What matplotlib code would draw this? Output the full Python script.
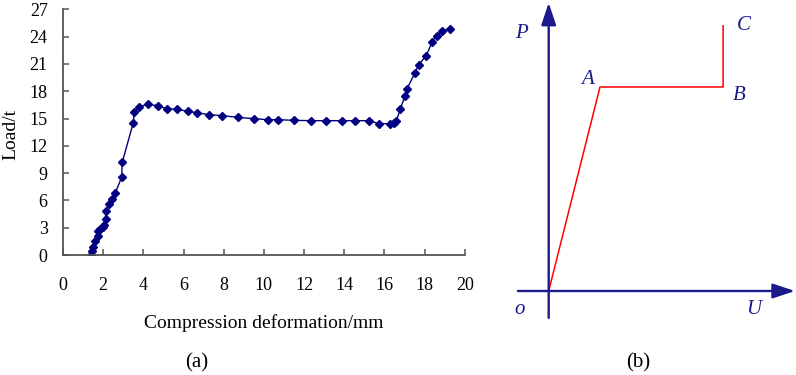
import numpy as np
import matplotlib
matplotlib.use("Agg")
import matplotlib.pyplot as plt

plt.rcParams['font.family'] = ['Liberation Serif', 'DejaVu Serif']

# ---- (a) measured load-deformation curve ----
deform = [1.41, 1.46, 1.49, 1.59, 1.72, 1.72, 1.84, 1.97, 2.04, 2.12, 2.12,
          2.30, 2.44, 2.60, 2.92, 2.95, 3.50, 3.55, 3.78, 4.21, 4.71, 5.16,
          5.66, 6.24, 6.65, 7.28, 7.93, 8.69, 9.50, 10.21, 10.71, 11.48,
          12.37, 13.08, 13.91, 14.56, 15.26, 15.72, 16.28, 16.50, 16.60,
          16.80, 17.03, 17.13, 17.51, 17.71, 18.09, 18.37, 18.61, 18.89, 19.29]
load = [0.0, 0.47, 0.91, 1.57, 2.12, 2.64, 2.82, 3.11, 3.30, 3.96, 4.87,
        5.60, 6.12, 6.81, 8.54, 10.19, 14.54, 15.68, 16.30, 16.56, 16.41, 16.08,
        16.01, 15.79, 15.64, 15.42, 15.31, 15.13, 14.98, 14.87, 14.87, 14.80,
        14.76, 14.76, 14.76, 14.76, 14.76, 14.43, 14.43, 14.50, 14.76,
        16.08, 17.51, 18.28, 19.95, 20.93, 21.90, 23.40, 24.10, 24.65, 24.84]
x_ticks = [0, 2, 4, 6, 8, 10, 12, 14, 16, 18, 20]
y_ticks = [0, 3, 6, 9, 12, 15, 18, 21, 24, 27]

# ---- (b) idealised model O-A-B-C ----
model_u = [0.0, 1.0, 3.4, 3.4]
model_p = [0.0, 1.0, 1.0, 1.3]
model_names = ['A', 'B', 'C']

fig = plt.figure(figsize=(7.96, 3.75), dpi=100)

W, H = 796, 375
ax = fig.add_axes([63 / W, 1 - 255 / H, (464.7 - 63) / W, (255 - 9.3) / H])
ax.plot(deform, load, color='#000080', lw=1.0, marker='D', markersize=4,
        markerfacecolor='#000080', markeredgecolor='#000080')
ax.set_xlim(0, 20)
ax.set_ylim(0, 27)
ax.set_xticks(x_ticks)
ax.set_yticks(y_ticks)
for s in ['top', 'right']:
    ax.spines[s].set_visible(False)
for s in ['left', 'bottom']:
    ax.spines[s].set_color('#555555')
    ax.spines[s].set_linewidth(1.3)
ax.tick_params(axis='both', direction='in', length=4, width=1.1, color='#555555',
               labelsize=13)
ax.tick_params(axis='y', pad=11)
ax.tick_params(axis='x', pad=16)
ax.set_ylabel('Load/t', fontsize=14)
ax.yaxis.set_label_coords(-0.108, 0.49)
ax.set_xlabel('Compression deformation/mm', fontsize=14, labelpad=14)
fig.text(197 / W, 1 - 363 / H, '(a)', fontsize=15, ha='center', va='center')

# schematic panel, data units: 1 U = 51.3 px, 1 P = 204 px
ax2 = fig.add_axes([510 / W, 1 - 335 / H, 286 / W, 335 / H])
ax2.set_xlim((510 - 548.7) / 51.3, (796 - 548.7) / 51.3)
ax2.set_ylim((291 - 335) / 204, 291 / 204)
ax2.axis('off')
blue = '#1a1a8c'
arrow = dict(arrowstyle='-|>,head_length=0.9,head_width=0.3', color=blue,
             lw=1.7, mutation_scale=15, shrinkA=0, shrinkB=0)
ax2.annotate('', xy=(0, 1.413), xytext=(0, -0.132), arrowprops=arrow)
ax2.annotate('', xy=(4.8, 0), xytext=(-0.6, 0), arrowprops=arrow)
ax2.plot(model_u, model_p, color='#ff0000', lw=1.1)

lab = dict(fontsize=15, style='italic', color=blue, ha='center', va='center')
ax2.text(-0.54, 1.26, 'P', **lab)
ax2.text(-0.57, -0.09, 'o', **lab)
ax2.text(4.0, -0.09, 'U', **lab)
ax2.text(model_u[1] - 0.24, model_p[1] + 0.035, model_names[0], **lab)
ax2.text(model_u[2] + 0.32, model_p[2] - 0.04, model_names[1], **lab)
ax2.text(model_u[3] + 0.4, model_p[3] + 0.0, model_names[2], **lab)
fig.text(638 / W, 1 - 363 / H, '(b)', fontsize=15, ha='center', va='center')

fig.savefig('out.png', dpi=100)
